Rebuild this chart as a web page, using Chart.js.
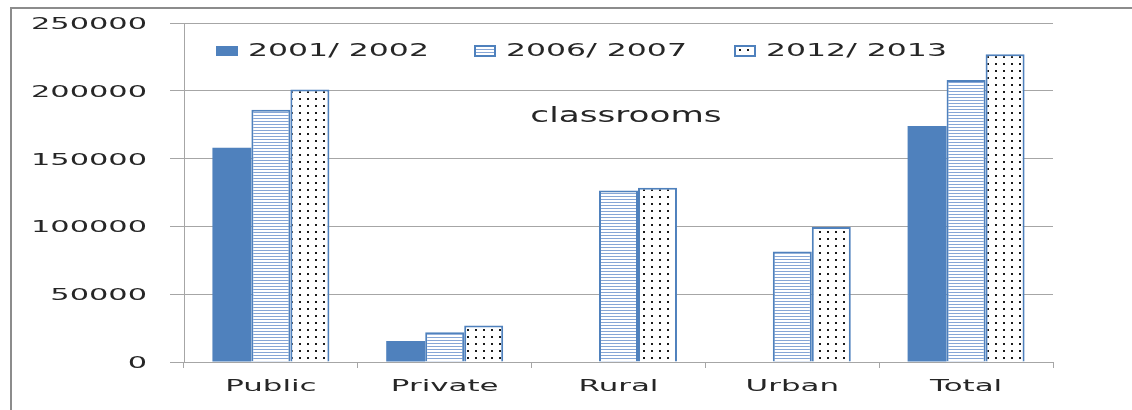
<!DOCTYPE html>
<html>
<head>
<meta charset="utf-8">
<script src="https://cdn.jsdelivr.net/npm/chart.js@4/dist/chart.umd.min.js"></script>
<style>
  html, body { margin: 0; padding: 0; background: #fff; overflow: hidden; }
  #wrap { position: relative; width: 1132px; height: 410px; }
  #chart { display: block; }
</style>
</head>
<body>
<div id="wrap"><canvas id="chart"></canvas></div>
<script>
const categories = ['Public', 'Private', 'Rural', 'Urban', 'Total'];
const seriesNames = ['2001/ 2002', '2006/ 2007', '2012/ 2013'];
const s2001 = [158000, 15500, null, null, 174000];
const s2006 = [186000, 22000, 126500, 81500, 208000];
const s2012 = [201000, 27000, 128500, 99500, 227000];
const yTicks = [0, 50000, 100000, 150000, 200000, 250000];
const chartTitle = 'classrooms';

const blue = '#4f81bd';
const textColor = '#262626';
const gridColor = '#a6a6a6';

const canvas = document.getElementById('chart');
const ctx = canvas.getContext('2d');

function makeHatch() {
  const c = document.createElement('canvas');
  c.width = 4; c.height = 3;
  const x = c.getContext('2d');
  x.fillStyle = '#fff'; x.fillRect(0, 0, 4, 3);
  x.fillStyle = '#86a6d6'; x.fillRect(0, 1, 4, 1);
  return ctx.createPattern(c, 'repeat');
}

function makeDots() {
  const c = document.createElement('canvas');
  c.width = 8; c.height = 7;
  const x = c.getContext('2d');
  x.fillStyle = '#fff'; x.fillRect(0, 0, 8, 7);
  x.fillStyle = '#1a1a1a'; x.fillRect(3, 0, 2, 2);
  return ctx.createPattern(c, 'repeat');
}

const hatch = makeHatch();
const dots = makeDots();
const fills = [blue, hatch, dots];

// text in the reference is stretched sideways, so draw it scaled
function stretchText(c, text, x, y, align, size, sx) {
  c.save();
  c.translate(x, y);
  c.scale(sx, 1);
  c.font = size + 'px "DejaVu Sans"';
  c.fillStyle = textColor;
  c.textAlign = align;
  c.textBaseline = 'alphabetic';
  c.fillText(text, 0, 0);
  c.restore();
}

const decor = {
  id: 'decor',
  beforeDraw(chart) {
    const c = chart.ctx;
    c.save();
    c.fillStyle = '#fff';
    c.fillRect(0, 0, chart.width, chart.height);
    c.fillStyle = '#8c8c8c';
    c.fillRect(10, 7, 2, chart.height - 7);
    c.fillRect(10, 7, chart.width - 10, 2);
    c.restore();
  },
  afterDraw(chart) {
    const c = chart.ctx;
    const ys = chart.scales.y;
    const xs = chart.scales.x;
    // y tick labels
    ys.ticks.forEach((t, i) => {
      const py = ys.getPixelForTick(i);
      stretchText(c, String(t.value), 147, py + 6, 'right', 16, 1.9);
    });
    // category labels
    categories.forEach((lab, i) => {
      stretchText(c, lab, xs.getPixelForTick(i), 391, 'center', 16, 1.93);
    });
    // title
    stretchText(c, chartTitle, 626, 122, 'center', 21, 1.63);
    // legend
    const lx = [216, 474, 734];
    seriesNames.forEach((name, i) => {
      c.save();
      c.fillStyle = fills[i];
      c.fillRect(lx[i], 46, 22, 10);
      if (i > 0) {
        c.strokeStyle = blue;
        c.lineWidth = 2;
        c.strokeRect(lx[i] + 1, 46, 20, 10);
      }
      c.restore();
      stretchText(c, name, lx[i] + 32, 56, 'left', 18, 1.75);
    });
  }
};

new Chart(canvas, {
  type: 'bar',
  data: {
    labels: categories,
    datasets: [
      { label: seriesNames[0], data: s2001, backgroundColor: blue, borderWidth: 0 },
      { label: seriesNames[1], data: s2006, backgroundColor: hatch, borderColor: blue, borderWidth: 2 },
      { label: seriesNames[2], data: s2012, backgroundColor: dots, borderColor: blue, borderWidth: 2 }
    ]
  },
  options: {
    responsive: true,
    maintainAspectRatio: false,
    animation: false,
    datasets: { bar: { categoryPercentage: 0.673, barPercentage: 1 } },
    layout: { padding: { top: 23, right: 79, bottom: 0, left: 0 } },
    plugins: { legend: { display: false }, tooltip: { enabled: false } },
    scales: {
      x: {
        afterFit(s) { s.height = 48; },
        ticks: { display: false },
        grid: { drawOnChartArea: false, tickLength: 6, color: gridColor, offset: true },
        border: { color: gridColor }
      },
      y: {
        min: 0,
        max: 250000,
        afterFit(s) { s.width = 184; },
        afterBuildTicks(s) { s.ticks = yTicks.map(v => ({ value: v })); },
        ticks: { display: false },
        grid: { color: gridColor, tickLength: 14 },
        border: { color: gridColor }
      }
    }
  },
  plugins: [decor]
});
</script>
</body>
</html>
